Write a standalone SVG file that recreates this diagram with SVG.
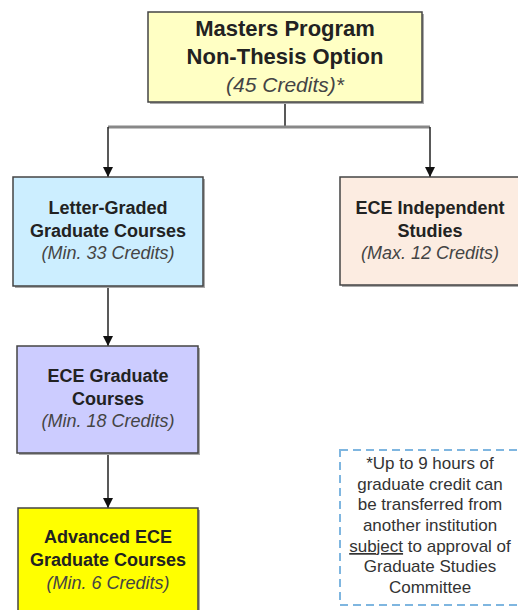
<svg xmlns="http://www.w3.org/2000/svg" width="518" height="610" viewBox="0 0 518 610">
<defs>
<marker id="arr" viewBox="0 0 10 10" refX="10" refY="5" markerWidth="10" markerHeight="10" markerUnits="userSpaceOnUse" orient="auto">
<path d="M0,0 L10,5 L0,10 z" fill="#111"/>
</marker>
</defs>
<style>
.box{stroke:#444;stroke-width:1.5}
.sh{fill:#aaa}
.b{font-family:"Liberation Sans",Arial,sans-serif;font-weight:bold;fill:#222;text-anchor:middle}
.i{font-family:"Liberation Sans",Arial,sans-serif;font-style:italic;fill:#444;text-anchor:middle}
.n{font-family:"Liberation Sans",Arial,sans-serif;fill:#333;text-anchor:middle;font-size:17px}
.c{fill:none;stroke:#222;stroke-width:1.5}
</style>
<rect width="518" height="610" fill="#fff"/>
<g id="connectors">
<path class="c" d="M285,102 V127" />
<path d="M108,127 H430" fill="none" stroke="#888" stroke-width="3"/>
<path class="c" d="M108,127 V177" marker-end="url(#arr)"/>
<path class="c" d="M430,127 V177" marker-end="url(#arr)"/>
<path class="c" d="M108,286 V346" marker-end="url(#arr)"/>
<path class="c" d="M108,453 V508" marker-end="url(#arr)"/>
</g>
<g id="top">
<rect class="sh" x="150" y="14" width="274" height="90"/>
<rect class="box" x="148" y="12" width="274" height="90" fill="#ffffc4"/>
<text class="b" x="285" y="36" font-size="22">Masters Program</text>
<text class="b" x="285" y="64" font-size="22">Non-Thesis Option</text>
<text class="i" x="285" y="92" font-size="21">(45 Credits)*</text>
</g>
<g id="letter">
<rect class="sh" x="15" y="179" width="190" height="109"/>
<rect class="box" x="13" y="177" width="190" height="109" fill="#cceeff"/>
<text class="b" x="108" y="214" font-size="18">Letter-Graded</text>
<text class="b" x="108" y="237" font-size="18">Graduate Courses</text>
<text class="i" x="108" y="259" font-size="18">(Min. 33 Credits)</text>
</g>
<g id="independent">
<rect class="sh" x="342" y="179" width="180" height="108"/>
<rect class="box" x="340" y="177" width="180" height="108" fill="#fcece1"/>
<text class="b" x="430" y="214" font-size="18">ECE Independent</text>
<text class="b" x="430" y="237" font-size="18">Studies</text>
<text class="i" x="430" y="259" font-size="18">(Max. 12 Credits)</text>
</g>
<g id="ece">
<rect class="sh" x="19" y="348" width="181" height="107"/>
<rect class="box" x="17" y="346" width="181" height="107" fill="#ccccff"/>
<text class="b" x="108" y="382" font-size="18">ECE Graduate</text>
<text class="b" x="108" y="405" font-size="18">Courses</text>
<text class="i" x="108" y="427" font-size="18">(Min. 18 Credits)</text>
</g>
<g id="advanced">
<rect class="sh" x="20" y="510" width="180" height="110"/>
<rect class="box" x="18" y="508" width="180" height="110" fill="#ffff00"/>
<text class="b" x="108" y="543" font-size="18">Advanced ECE</text>
<text class="b" x="108" y="566" font-size="18">Graduate Courses</text>
<text class="i" x="108" y="589" font-size="18" fill="#333">(Min. 6 Credits)</text>
</g>
<g id="note">
<rect x="340" y="450" width="180" height="155" fill="none" stroke="#7fb6e0" stroke-width="2" stroke-dasharray="8,5"/>
<text class="n" x="430" y="469">*Up to 9 hours of</text>
<text class="n" x="430" y="490">graduate credit can</text>
<text class="n" x="430" y="510">be transferred from</text>
<text class="n" x="430" y="531">another institution</text>
<text class="n" x="430" y="552"><tspan text-decoration="underline">subject</tspan> to approval of</text>
<text class="n" x="430" y="572">Graduate Studies</text>
<text class="n" x="430" y="593">Committee</text>
</g>
</svg>
